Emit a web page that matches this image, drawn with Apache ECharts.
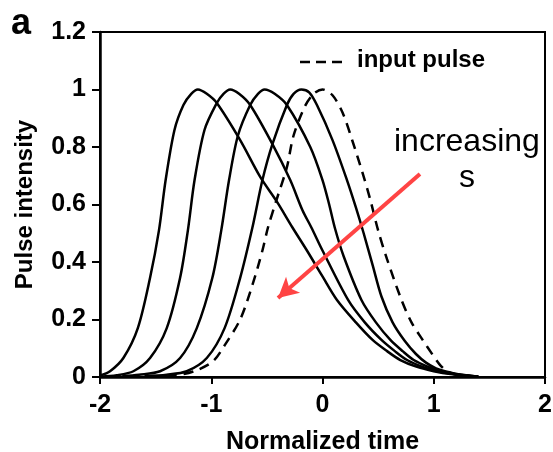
<!DOCTYPE html>
<html>
<head>
<meta charset="utf-8">
<title>Pulse intensity</title>
<script src="https://cdn.jsdelivr.net/npm/echarts@6/dist/echarts.min.js"></script>
<style>
  html, body { margin: 0; padding: 0; background: #fff; }
  #chart { width: 553px; height: 452px; }
</style>
</head>
<body>
<div id="chart"></div>
<script>
// tick labels
const xTicks = [-2, -1, 0, 1, 2];
const yTicks = [0, 0.2, 0.4, 0.6, 0.8, 1, 1.2];

// output pulses, left to right : [time, intensity]
const pulse1 = [
  [-2.0, 0.005], [-1.91, 0.02], [-1.79, 0.066], [-1.66, 0.17], [-1.55, 0.345],
  [-1.47, 0.51], [-1.41, 0.685], [-1.33, 0.86], [-1.25, 0.946], [-1.18, 0.985],
  [-1.12, 1.0], [-1.04, 0.985], [-0.95, 0.953], [-0.74, 0.824], [-0.56, 0.696],
  [-0.41, 0.61], [-0.27, 0.52], [-0.14, 0.44], [0.0, 0.35], [0.13, 0.268],
  [0.3, 0.19], [0.45, 0.129], [0.58, 0.09], [0.7, 0.059], [0.85, 0.035],
  [1.0, 0.02], [1.15, 0.01], [1.4, 0.002]
];
const pulse2 = [
  [-2.0, 0.001], [-1.85, 0.006], [-1.7, 0.02], [-1.55, 0.066], [-1.4, 0.17],
  [-1.28, 0.345], [-1.21, 0.51], [-1.15, 0.685], [-1.06, 0.86], [-0.95, 0.953],
  [-0.89, 0.985], [-0.83, 1.0], [-0.75, 0.985], [-0.65, 0.946], [-0.45, 0.81],
  [-0.29, 0.685], [-0.18, 0.58], [-0.1, 0.52], [0.0, 0.44], [0.23, 0.268],
  [0.38, 0.19], [0.53, 0.129], [0.65, 0.09], [0.76, 0.059], [0.9, 0.035],
  [1.03, 0.02], [1.18, 0.01], [1.4, 0.002]
];
const pulse3 = [
  [-1.8, 0.003], [-1.65, 0.008], [-1.46, 0.02], [-1.28, 0.066], [-1.13, 0.17],
  [-0.99, 0.345], [-0.91, 0.51], [-0.84, 0.685], [-0.76, 0.84], [-0.65, 0.946],
  [-0.58, 0.985], [-0.52, 1.0], [-0.43, 0.985], [-0.32, 0.946], [-0.11, 0.8],
  [0.0, 0.685], [0.06, 0.6], [0.11, 0.52], [0.19, 0.42], [0.35, 0.268],
  [0.48, 0.19], [0.61, 0.129], [0.72, 0.09], [0.82, 0.059], [0.95, 0.035],
  [1.06, 0.02], [1.2, 0.01], [1.4, 0.002]
];
const pulse4 = [
  [-1.6, 0.003], [-1.4, 0.008], [-1.22, 0.02], [-1.04, 0.066], [-0.88, 0.17],
  [-0.74, 0.345], [-0.63, 0.52], [-0.54, 0.685], [-0.45, 0.81], [-0.32, 0.946],
  [-0.26, 0.985], [-0.19, 1.0], [-0.12, 0.99], [-0.05, 0.946], [0.09, 0.824],
  [0.22, 0.685], [0.3, 0.59], [0.37, 0.5], [0.45, 0.39], [0.53, 0.28],
  [0.63, 0.19], [0.74, 0.125], [0.84, 0.08], [0.93, 0.05], [1.02, 0.03],
  [1.1, 0.02], [1.22, 0.01], [1.4, 0.002]
];
const inputPulse = [
  [-1.4, 0.002], [-1.25, 0.01], [-1.12, 0.025], [-0.98, 0.056], [-0.88, 0.11],
  [-0.74, 0.2], [-0.63, 0.32], [-0.54, 0.44], [-0.49, 0.52], [-0.41, 0.62],
  [-0.32, 0.73], [-0.26, 0.84], [-0.16, 0.94], [-0.08, 0.985], [0.0, 1.0],
  [0.09, 0.98], [0.18, 0.92], [0.27, 0.82], [0.36, 0.71], [0.43, 0.616],
  [0.5, 0.51], [0.58, 0.41], [0.71, 0.268], [0.8, 0.19], [0.9, 0.129],
  [0.98, 0.083], [1.05, 0.045], [1.12, 0.02], [1.2, 0.008], [1.35, 0.002]
];
// red "increasing s" arrow, tail -> head
const arrowTail = [0.876, 0.706];
const arrowHead = [-0.4, 0.275];

const font = 'Liberation Sans, Arial, sans-serif';

function curve(name, data, dashed) {
  return {
    name: name,
    type: 'line',
    data: data,
    smooth: 0.3,
    showSymbol: false,
    symbol: 'none',
    silent: true,
    lineStyle: { color: '#000', width: 2.5, type: dashed ? [10, 7] : 'solid' },
    itemStyle: { color: '#000' }
  };
}

const chart = echarts.init(document.getElementById('chart'), null, { renderer: 'canvas' });

const series = [
  curve('s1', pulse1, false),
  curve('s2', pulse2, false),
  curve('s3', pulse3, false),
  curve('s4', pulse4, false),
  curve('input pulse', inputPulse, true)
];
series[0].markLine = {
  silent: true,
  symbol: ['none', 'arrow'],
  symbolSize: [16, 20],
  label: { show: false },
  lineStyle: { color: '#ff4444', width: 4, type: 'solid' },
  data: [[{ coord: arrowTail }, { coord: arrowHead }]]
};

chart.setOption({
  animation: false,
  backgroundColor: '#fff',
  grid: {
    left: 100, right: 8, top: 32, bottom: 75,
    show: true, borderColor: '#000', borderWidth: 2,
    outerBoundsMode: 'none'
  },
  xAxis: {
    type: 'value',
    min: xTicks[0], max: xTicks[xTicks.length - 1], interval: 1,
    name: 'Normalized time',
    nameLocation: 'middle', nameGap: 53,
    nameTextStyle: { fontFamily: font, fontWeight: 'bold', fontSize: 25, color: '#000' },
    axisLine: { onZero: false, lineStyle: { color: '#000', width: 2.5 } },
    axisTick: { inside: false, length: 7, lineStyle: { color: '#000', width: 2 } },
    axisLabel: { margin: 16, fontFamily: font, fontWeight: 'bold', fontSize: 25, color: '#000' },
    splitLine: { show: false }
  },
  yAxis: {
    type: 'value',
    min: yTicks[0], max: yTicks[yTicks.length - 1], interval: 0.2,
    name: 'Pulse intensity',
    nameLocation: 'middle', nameGap: 63,
    nameTextStyle: { fontFamily: font, fontWeight: 'bold', fontSize: 24, color: '#000' },
    axisLine: { onZero: false, lineStyle: { color: '#000', width: 2.5 } },
    axisTick: { inside: false, length: 8, lineStyle: { color: '#000', width: 2 } },
    axisLabel: { margin: 14, fontFamily: font, fontWeight: 'bold', fontSize: 25, color: '#000' },
    splitLine: { show: false }
  },
  graphic: [
    { type: 'text', left: 11, top: 6,
      style: { text: 'a', font: 'bold 36px ' + font, fill: '#000' } },
    // legend: dashed sample + label
    { type: 'line', shape: { x1: 300, y1: 62, x2: 342, y2: 62 },
      style: { stroke: '#000', lineWidth: 2.5, lineDash: [10, 6] } },
    { type: 'text', left: 357, top: 48,
      style: { text: 'input pulse', font: 'bold 24px ' + font, fill: '#000' } },
    { type: 'text', left: 394, top: 126,
      style: { text: 'increasing', font: '32px ' + font, fill: '#000' } },
    { type: 'text', left: 459, top: 162,
      style: { text: 's', font: '32px ' + font, fill: '#000' } }
  ],
  series: series
});
</script>
</body>
</html>
